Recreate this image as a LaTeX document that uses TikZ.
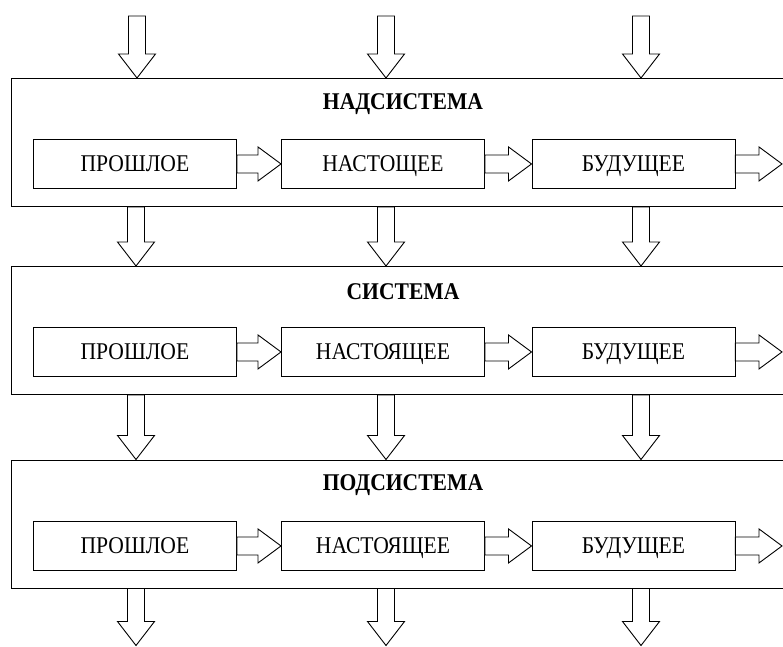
\documentclass[tikz,border=0pt]{standalone}
\usepackage{fontspec}
\setmainfont{Liberation Serif}[FakeStretch=0.9]
\usetikzlibrary{calc}
\tikzset{
  outerbox/.style={draw, line width=1pt, inner sep=0pt, minimum width=784pt, minimum height=128pt, anchor=north west},
  innerbox/.style={draw, line width=0.9pt, inner sep=0pt, minimum width=203pt, minimum height=49pt, anchor=north west,
    font=\fontsize{24}{28}\selectfont, text height=15.8pt, text depth=0pt},
  titlelbl/.style={inner sep=0pt, font=\fontsize{24}{28}\selectfont\bfseries, text height=15.8pt, text depth=0pt},
  blockarrow/.style={draw, line width=0.9pt, line join=miter, fill=white}
}
\newcommand{\blkdown}[2]{%
  \draw[blockarrow] let \p1=(#1), \p2=(#2) in
    (\x1-8.5pt,\y1) -- (\x1+8.5pt,\y1) -- (\x1+8.5pt,\y2+24pt) -- (\x1+18.5pt,\y2+24pt)
    -- (\x1,\y2) -- (\x1-18.5pt,\y2+24pt) -- (\x1-8.5pt,\y2+24pt) -- cycle;}
\newcommand{\blkright}[2]{%
  \draw[blockarrow] let \p1=(#1), \p2=(#2) in
    (\x1,\y1+9pt) -- (\x2-23pt,\y1+9pt) -- (\x2-23pt,\y1+17pt) -- (\x2,\y1)
    -- (\x2-23pt,\y1-17pt) -- (\x2-23pt,\y1-9pt) -- (\x1,\y1-9pt) -- cycle;}
\begin{document}
\begin{tikzpicture}[x=1pt,y=-1pt]
\useasboundingbox (0,0) rectangle (783,646);
\clip (0,0) rectangle (783,646);
% column and free-end coordinates
\coordinate (c1) at (136,0);
\coordinate (c2) at (386,0);
\coordinate (c3) at (641,0);
\coordinate (in1) at (137,16);
\coordinate (in2) at (386,16);
\coordinate (in3) at (641,16);
\coordinate (out1) at (136,645.5);
\coordinate (out2) at (386,645.5);
\coordinate (out3) at (641,645.5);
\coordinate (exitx) at (782,0);
% outer boxes
\node[outerbox] (sup) at (11,78) {};
\node[outerbox] (sys) at (11,266) {};
\node[outerbox] (sub) at (11,459.5) {};
% titles
\node[titlelbl] (tsup) at (403,102) {НАДСИСТЕМА};
\node[titlelbl] (tsys) at (403,292) {СИСТЕМА};
\node[titlelbl] (tsub) at (403,483) {ПОДСИСТЕМА};
% inner boxes
\node[innerbox] (p1) at (33,139) {ПРОШЛОЕ};
\node[innerbox] (n1) at (281,139) {НАСТОЩЕЕ};
\node[innerbox] (f1) at (531.5,139) {БУДУЩЕЕ};
\node[innerbox] (p2) at (33,327) {ПРОШЛОЕ};
\node[innerbox] (n2) at (281,327) {НАСТОЯЩЕЕ};
\node[innerbox] (f2) at (531.5,327) {БУДУЩЕЕ};
\node[innerbox] (p3) at (33,521) {ПРОШЛОЕ};
\node[innerbox] (n3) at (281,521) {НАСТОЯЩЕЕ};
\node[innerbox] (f3) at (531.5,521) {БУДУЩЕЕ};
% horizontal arrows
\foreach \r in {1,2,3}{
  \blkright{p\r.east}{n\r.west}
  \blkright{n\r.east}{f\r.west}
  \blkright{f\r.east}{f\r.east -| exitx}
}
% vertical arrows
\foreach \c in {1,2,3}{
  \blkdown{in\c}{in\c |- sup.north}
  \blkdown{c\c |- sup.south}{c\c |- sys.north}
  \blkdown{c\c |- sys.south}{c\c |- sub.north}
  \blkdown{c\c |- sub.south}{out\c}
}
\end{tikzpicture}
\end{document}
